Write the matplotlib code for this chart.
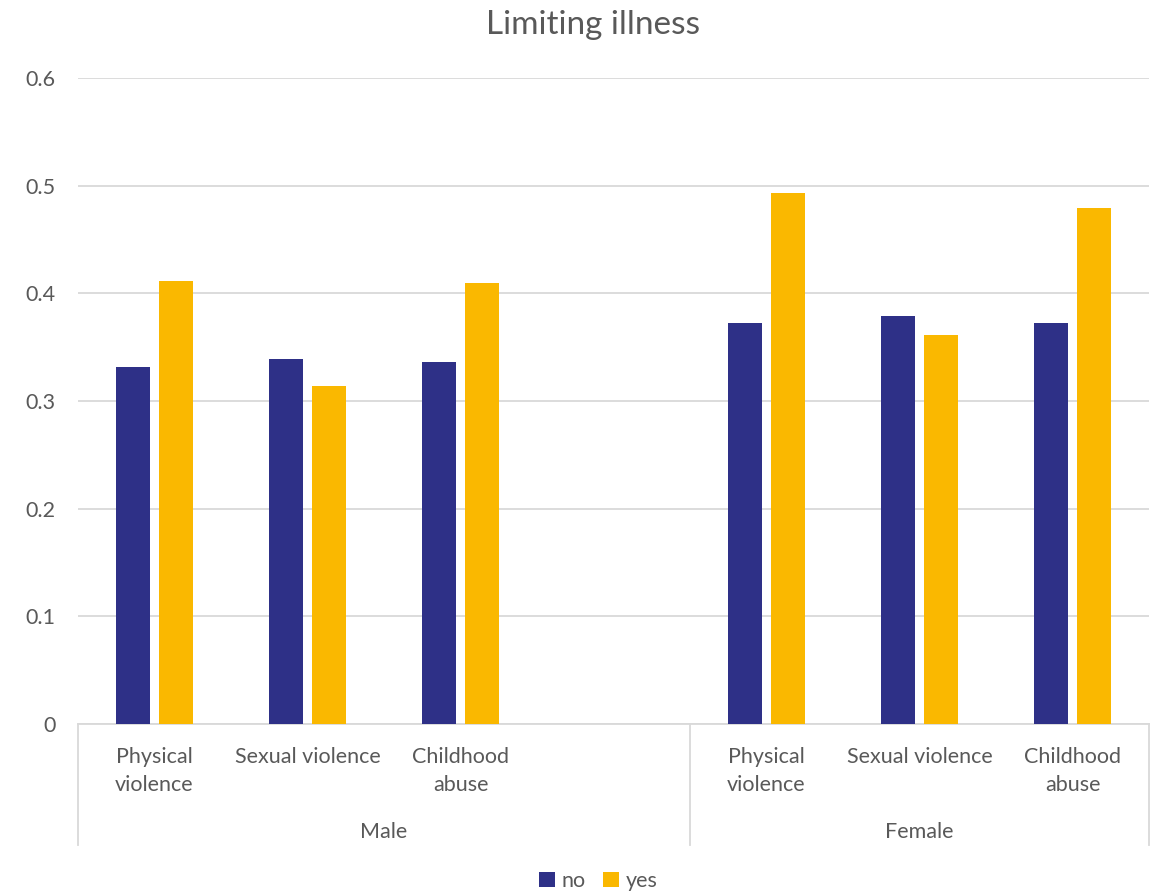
import matplotlib.pyplot as plt
import matplotlib.transforms as mtransforms
from matplotlib.patches import Patch
import numpy as np

# data
groups = ['Male', 'Female']
categories = ['Physical\nviolence', 'Sexual violence', 'Childhood\nabuse']
# Male has a fourth, empty slot in the original chart
slots = [0, 1, 2, 4, 5, 6]
slot_labels = categories + categories
no_vals = [0.332, 0.339, 0.336, 0.372, 0.379, 0.372]
yes_vals = [0.411, 0.314, 0.410, 0.493, 0.361, 0.479]

c_no = '#2E3087'
c_yes = '#FAB800'
txt = '#595959'
grid_c = '#D9D9D9'
fs = 15.5

plt.rcParams['font.family'] = ['Lato', 'DejaVu Sans']

fig = plt.figure(figsize=(11.58, 8.92), dpi=100)
ax = fig.add_axes([78 / 1158, 1 - 724 / 892, (1149 - 78) / 1158, (724 - 78) / 892])

x = np.array(slots, dtype=float)
w = 0.222
off = 0.141
ax.bar(x - off, no_vals, w, color=c_no, zorder=3)
ax.bar(x + off, yes_vals, w, color=c_yes, zorder=3)

ax.set_xlim(-0.5, 6.5)
ax.set_ylim(0, 0.6)
ax.set_yticks([0, 0.1, 0.2, 0.3, 0.4, 0.5, 0.6])
ax.set_yticklabels(['0', '0.1', '0.2', '0.3', '0.4', '0.5', '0.6'])
ax.yaxis.grid(True, color=grid_c, linewidth=1.3, zorder=0)
ax.tick_params(axis='y', length=0, pad=16, labelsize=fs, labelcolor=txt)
ax.set_xticks([])
for s in ['top', 'right', 'left']:
    ax.spines[s].set_visible(False)
ax.spines['bottom'].set_color(grid_c)
ax.spines['bottom'].set_linewidth(1.3)

trans = mtransforms.blended_transform_factory(ax.transData, ax.transAxes)

# category labels
for xs, lab in zip(slots, slot_labels):
    ax.text(xs, -0.035, lab, transform=trans, ha='center', va='top',
            fontsize=fs, color=txt, linespacing=1.5)

# group labels and separators
group_spans = [(-0.5, 3.5), (3.5, 6.5)]
for g, (a, b) in zip(groups, group_spans):
    ax.text((a + b) / 2, -0.167, g, transform=trans, ha='center', va='center',
            fontsize=fs, color=txt)
for xb in [-0.5, 3.5, 6.5]:
    ax.plot([xb, xb], [0, -0.187], transform=trans, color=grid_c,
            linewidth=1.3, clip_on=False)

fig.text(593 / 1158, 1 - 25 / 892, 'Limiting illness', ha='center', va='center',
         fontsize=24, color=txt)

handles = [Patch(facecolor=c_no, label='no'), Patch(facecolor=c_yes, label='yes')]
fig.legend(handles=handles, loc='center', bbox_to_anchor=(598 / 1158, 1 - 881 / 892),
           ncol=2, frameon=False, fontsize=fs, labelcolor=txt,
           handlelength=0.75, handleheight=0.75, handletextpad=0.3, columnspacing=0.8)

fig.savefig('out.png', dpi=100)
